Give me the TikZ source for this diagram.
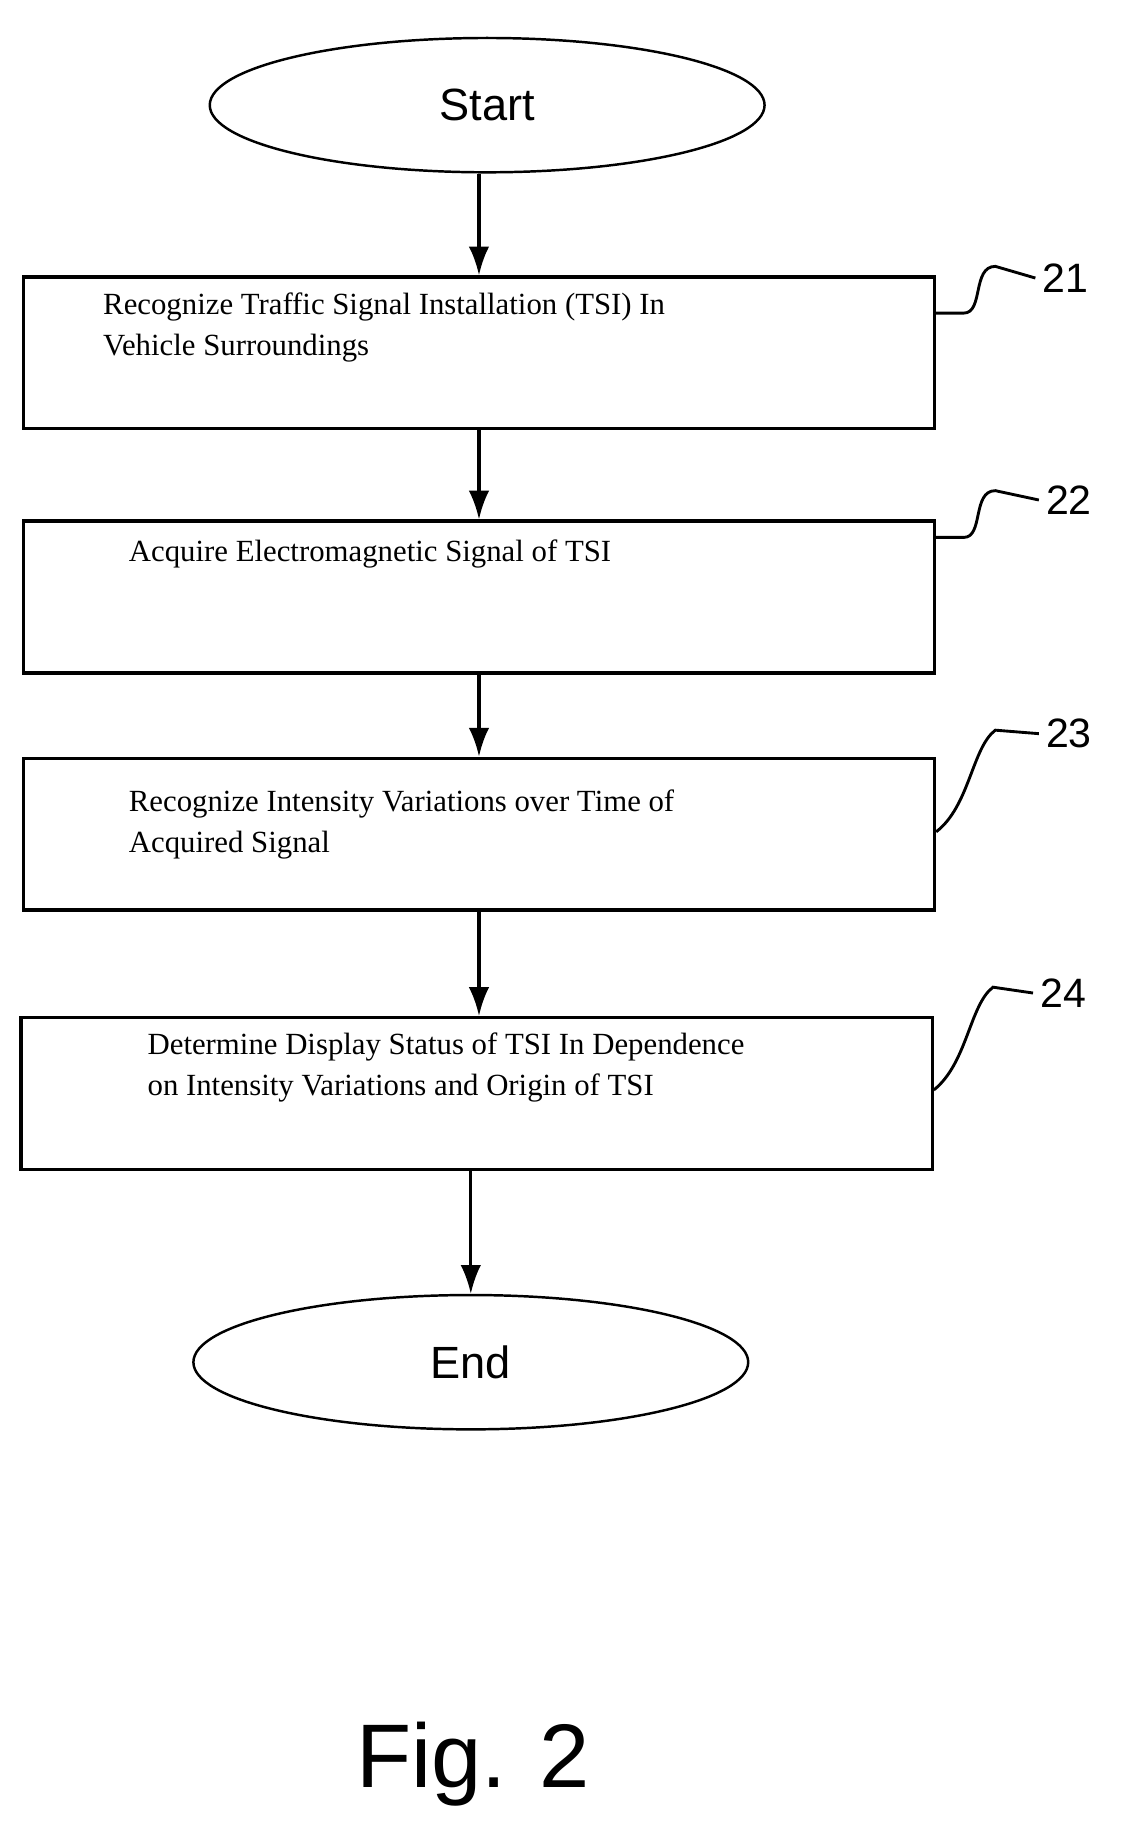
\documentclass[tikz,border=0pt]{standalone}
\usepackage{fontspec}
\setmainfont{Liberation Serif}
\setsansfont{Liberation Sans}
\usetikzlibrary{shapes.geometric, arrows.meta}
\tikzset{
  stepbox/.style={draw, line width=1.6pt, minimum width=15.6cm, minimum height=2.6cm, inner sep=0pt},
  term/.style={draw, ellipse, line width=1.2pt, minimum width=9.5cm, minimum height=2.3cm, font=\sffamily\fontsize{22}{26}\selectfont},
  steptext/.style={anchor=north west, align=left, inner sep=0pt, font=\fontsize{15}{20}\selectfont},
  ref/.style={font=\sffamily\fontsize{20}{24}\selectfont},
  flow/.style={-{Latex[length=14pt,width=10pt]}, line width=1.6pt},
  lead/.style={line width=1.4pt}
}
\begin{document}
\begin{tikzpicture}[x=0.02cm, y=0.02cm]
\useasboundingbox (0,0) rectangle (960,-1575);

\node[term] (start) at (417,-90) {Start};

\node[stepbox] (b1) at (410,-302) {};
\node[stepbox] (b2) at (410,-511) {};
\node[stepbox] (b3) at (410,-714) {};
\node[stepbox] (b4) at (408,-936) {};

\node[term] (end) at (403,-1166) {End};

% texts
\node[steptext] (t1) at (88,-250) {Recognize Traffic Signal Installation (TSI) In\\Vehicle Surroundings};
\node[steptext] (t2) at (110,-462) {Acquire Electromagnetic Signal of TSI};
\node[steptext] (t3) at (110,-676) {Recognize Intensity Variations over Time of\\Acquired Signal};
\node[steptext] (t4) at (126,-884) {Determine Display Status of TSI In Dependence\\on Intensity Variations and Origin of TSI};

% arrows
\draw[flow] (start.south -| b1.north) -- (b1.north);
\draw[flow] (b1) -- (b2);
\draw[flow] (b2.south) -- (b2.south |- b3.north);
\draw[flow] (b3.south) -- (b3.south |- b4.north);
\draw[flow] (b4.south -| end.north) -- (end.north);

% reference numbers
\node[ref] (r1) at (912,-238) {21};
\node[ref] (r2) at (915,-428) {22};
\node[ref] (r3) at (915,-628) {23};
\node[ref] (r4) at (910,-850) {24};

\draw[lead] (b1.east |- 0,-268) -- (825,-268) .. controls (842,-268) and (832,-228) .. (852,-228) -- (r1.west);
\draw[lead] (b2.east |- 0,-460) -- (825,-460) .. controls (842,-460) and (832,-420) .. (852,-420) -- (r2.west);
\draw[lead] (b3.east |- 0,-712) .. controls (830,-690) and (832,-640) .. (852,-625) -- (r3.west);
\draw[lead] (b4.east |- 0,-933) .. controls (828,-910) and (830,-860) .. (850,-845) -- (r4.west);

\node[font=\sffamily\fontsize{44}{50}\selectfont] (fig) at (405,-1510) {Fig. 2};
\end{tikzpicture}
\end{document}
